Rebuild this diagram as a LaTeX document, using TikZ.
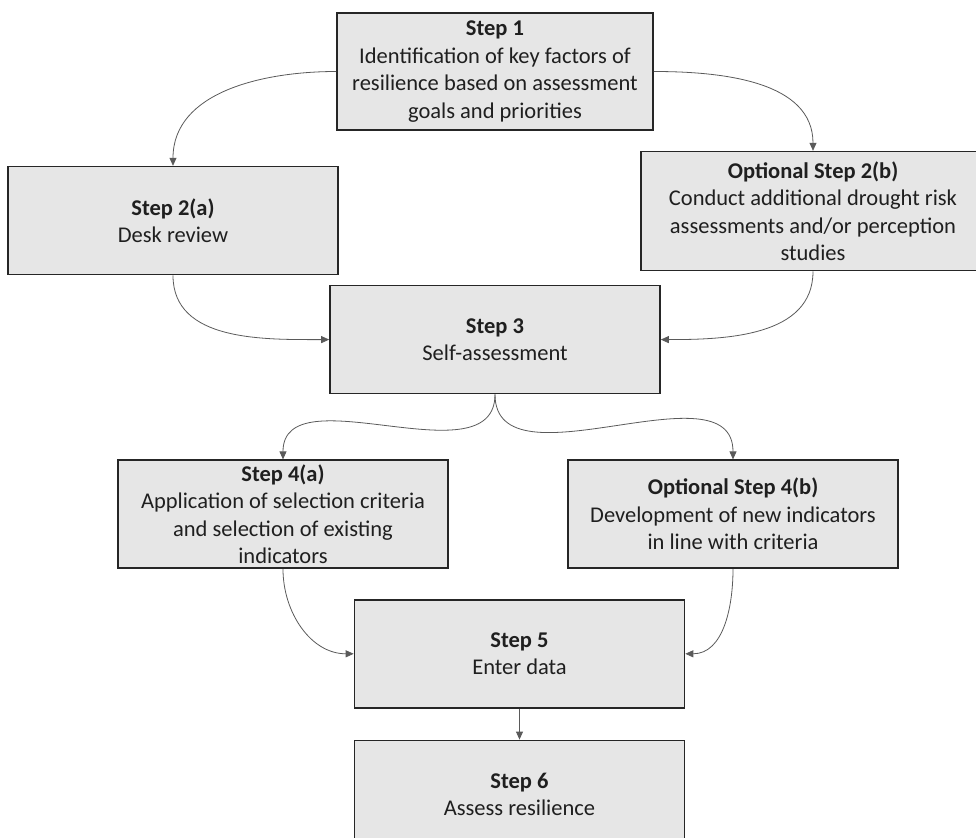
\documentclass[tikz,border=0pt]{standalone}
\usepackage{fontspec}
\setmainfont{Carlito}
\usepackage{xcolor}
\usepackage{tikz}
\definecolor{boxfill}{HTML}{E6E6E6}
\definecolor{boxline}{HTML}{262626}
\definecolor{linkgray}{HTML}{5A5A5A}
\tikzset{
  stepbox/.style={draw=boxline, line width=1.6pt, fill=boxfill,
                  minimum width=330pt, minimum height=108pt,
                  align=center, inner sep=2pt, text=black!88,
                  font=\fontsize{22.5}{27.5}\selectfont},
  link/.style={-{Triangle[length=8pt, width=7pt]}, draw=linkgray, line width=0.8pt}
}
\usetikzlibrary{positioning, arrows.meta}

\begin{document}
\begin{tikzpicture}
    \clip (-495pt,71.5pt) rectangle (481pt,-765.5pt);
    \node[stepbox, minimum width=316pt, minimum height=117pt] (s1) {\textbf{Step 1}\\Identification of key factors of\\resilience based on assessment\\goals and priorities};
    \node[stepbox, below=35pt of s1, xshift=-322pt] (s2a) {\textbf{Step 2(a)}\\Desk review};
    \node[stepbox, minimum width=344pt, minimum height=119pt, below=20pt of s1, xshift=318pt] (s2b) {\textbf{Optional Step 2(b)}\\Conduct additional drought risk\\assessments and/or perception\\studies};
    \node[stepbox, below=154pt of s1] (s3) {\textbf{Step 3}\\Self-assessment};
    \node[stepbox, below=65pt of s3, xshift=-212pt] (s4a) {\textbf{Step 4(a)}\\Application of selection criteria\\and selection of existing\\indicators};
    \node[stepbox, below=65pt of s3, xshift=238pt] (s4b) {\textbf{Optional Step 4(b)}\\Development of new indicators\\in line with criteria};
    \node[stepbox, below=30pt of s4a, xshift=236.5pt] (s5) {\textbf{Step 5}\\Enter data};
    \node[stepbox, below=31pt of s5] (s6) {\textbf{Step 6}\\Assess resilience};

    \draw[link] (s1.west) to[out=180, in=90] (s2a.north);
    \draw[link] (s1.east) to[out=0, in=90] (s2b.north);
    \draw[link] (s2a.south) to[out=-90, in=180] (s3.west);
    \draw[link] (s2b.south) to[out=-90, in=0] (s3.east);
    \draw[link] (s3.south) to[out=-90, in=90] (s4a.north);
    \draw[link] (s3.south) to[out=-90, in=90] (s4b.north);
    \draw[link] (s4a.south) to[out=-90, in=180] (s5.west);
    \draw[link] (s4b.south) to[out=-90, in=0] (s5.east);
    \draw[link] (s5) -- (s6);
\end{tikzpicture}
\end{document}
